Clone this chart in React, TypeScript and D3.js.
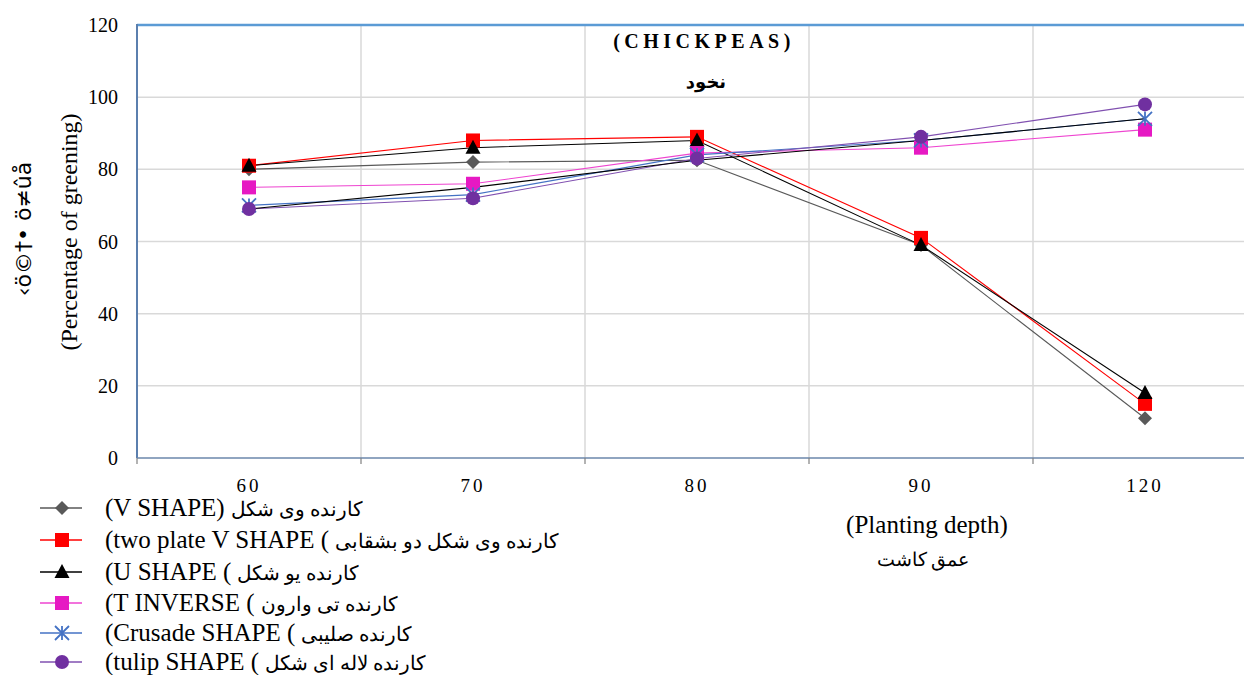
import { useEffect, useRef } from 'react';
import * as d3 from 'd3';

const depths = ['60', '70', '80', '90', '120'];
const vShape = [80, 82, 82.5, 59, 11];
const twoPlateV = [81, 88, 89, 61, 15];
const uShape = [81, 86, 88, 59, 18];
const tInverse = [75, 76, 84.5, 86, 91];
const crusade = [70, 73, 84, 88, 94];
const tulip = [69, 72, 83, 89, 98];
const unlabeled = [69, 75, 82.5, 88, 94];
const yTicks = [0, 20, 40, 60, 80, 100, 120];

const latinNames = ['(V SHAPE)', '(two plate V SHAPE (', '(U SHAPE (', '(T INVERSE (', '(Crusade SHAPE (', '(tulip SHAPE ('];
const persianNames = ['کارنده وی شکل', 'کارنده وی شکل دو بشقابی', 'کارنده یو شکل', 'کارنده تی وارون', 'کارنده صلیبی', 'کارنده لاله ای شکل'];

interface Series {
  values: number[];
  color: string;
  lineColor: string;
  marker: string;
}

const series: Series[] = [
  { values: vShape, color: '#595959', lineColor: '#595959', marker: 'diamond' },
  { values: twoPlateV, color: '#ff0000', lineColor: '#ff0000', marker: 'square' },
  { values: uShape, color: '#000000', lineColor: '#000000', marker: 'triangle' },
  { values: tInverse, color: '#e619c3', lineColor: '#ee44d0', marker: 'square' },
  { values: crusade, color: '#4472c4', lineColor: '#4472c4', marker: 'asterisk' },
  { values: tulip, color: '#7030a0', lineColor: '#8050b0', marker: 'circle' },
];

function drawMarker(g: d3.Selection<SVGGElement, unknown, null, undefined>, kind: string, x: number, y: number, color: string) {
  if (kind === 'square') {
    g.append('rect').attr('x', x - 7).attr('y', y - 7).attr('width', 14).attr('height', 14).attr('fill', color);
  } else if (kind === 'diamond') {
    g.append('path').attr('d', `M${x},${y - 7}L${x + 7},${y}L${x},${y + 7}L${x - 7},${y}Z`).attr('fill', color);
  } else if (kind === 'triangle') {
    g.append('path').attr('d', `M${x},${y - 8}L${x + 7.5},${y + 6}L${x - 7.5},${y + 6}Z`).attr('fill', color);
  } else if (kind === 'circle') {
    g.append('circle').attr('cx', x).attr('cy', y).attr('r', 7).attr('fill', color);
  } else if (kind === 'asterisk') {
    const r = 7;
    const p = `M${x - r},${y - r}L${x + r},${y + r}M${x - r},${y + r}L${x + r},${y - r}M${x},${y - r}L${x},${y + r}`;
    g.append('path').attr('d', p).attr('stroke', color).attr('stroke-width', 1.8).attr('fill', 'none');
  }
}

export default function App() {
  const svgRef = useRef<SVGSVGElement>(null);

  useEffect(() => {
    if (!svgRef.current) return;
    const svg = d3.select(svgRef.current);
    svg.selectAll('*').remove();

    const left = 137;
    const top = 25;
    const bottom = 458;
    const band = 224;

    const x = d3.scaleBand().domain(depths).range([left, left + band * depths.length]).padding(0);
    const y = d3.scaleLinear().domain([0, 120]).range([bottom, top]);
    const cx = (d: string) => (x(d) || 0) + x.bandwidth() / 2;

    const g = svg.append('g');

    // Gridlines
    g.selectAll('line.hgrid')
      .data(yTicks.filter(t => t > 0 && t < 120))
      .enter()
      .append('line')
      .attr('x1', left)
      .attr('x2', 1260)
      .attr('y1', d => y(d))
      .attr('y2', d => y(d))
      .attr('stroke', '#d9d9d9')
      .attr('stroke-width', 1.5);

    g.selectAll('line.vgrid')
      .data(depths.slice(1))
      .enter()
      .append('line')
      .attr('x1', d => x(d) || 0)
      .attr('x2', d => x(d) || 0)
      .attr('y1', top)
      .attr('y2', bottom)
      .attr('stroke', '#d9d9d9')
      .attr('stroke-width', 1.5);

    // Frame
    g.append('line').attr('x1', left).attr('x2', 1260).attr('y1', top).attr('y2', top)
      .attr('stroke', '#5b9bd5').attr('stroke-width', 2.5);
    g.append('line').attr('x1', left).attr('x2', left).attr('y1', top - 1).attr('y2', bottom)
      .attr('stroke', '#5b7fae').attr('stroke-width', 2);
    g.append('line').attr('x1', left).attr('x2', 1260).attr('y1', bottom).attr('y2', bottom)
      .attr('stroke', '#6b87ab').attr('stroke-width', 1.5);

    // X ticks
    g.selectAll('line.xtick')
      .data(depths)
      .enter()
      .append('line')
      .attr('x1', d => x(d) || 0)
      .attr('x2', d => x(d) || 0)
      .attr('y1', bottom)
      .attr('y2', bottom + 6)
      .attr('stroke', '#808080')
      .attr('stroke-width', 1.2);

    // Y tick labels
    g.selectAll('text.ytick')
      .data(yTicks)
      .enter()
      .append('text')
      .attr('x', 118)
      .attr('y', d => y(d) + 7)
      .attr('text-anchor', 'end')
      .attr('font-family', 'Liberation Serif')
      .attr('font-size', 20)
      .text(d => d);

    // X tick labels
    g.selectAll('text.xtick')
      .data(depths)
      .enter()
      .append('text')
      .attr('x', d => cx(d))
      .attr('y', 492)
      .attr('text-anchor', 'middle')
      .attr('font-family', 'Liberation Serif')
      .attr('font-size', 19)
      .attr('letter-spacing', 3)
      .text(d => d);

    // Lines
    const line = d3.line<number>().x((_, i) => cx(depths[i])).y(d => y(d));
    series.forEach(s => {
      g.append('path').attr('d', line(s.values)).attr('fill', 'none')
        .attr('stroke', s.lineColor).attr('stroke-width', 1.1);
    });
    g.append('path').attr('d', line(unlabeled)).attr('fill', 'none')
      .attr('stroke', '#000').attr('stroke-width', 1.1);

    // Markers
    series.forEach(s => {
      s.values.forEach((v, i) => drawMarker(g, s.marker, cx(depths[i]), y(v), s.color));
    });

    // Title
    g.append('text').attr('x', 704).attr('y', 48).attr('text-anchor', 'middle')
      .attr('font-family', 'Liberation Serif').attr('font-weight', 'bold').attr('font-size', 20)
      .attr('letter-spacing', 4.5).text('(CHICKPEAS)');
    g.append('text').attr('x', 706).attr('y', 88).attr('text-anchor', 'middle')
      .attr('font-family', 'DejaVu Sans').attr('font-weight', 'bold').attr('font-size', 18)
      .attr('letter-spacing', 2).text('نخود');

    // Axis titles
    g.append('text').attr('transform', 'translate(77,232) rotate(-90)').attr('text-anchor', 'middle')
      .attr('font-family', 'Liberation Serif').attr('font-size', 24).text('(Percentage of greening)');
    g.append('text').attr('transform', 'translate(31,229) rotate(-90)').attr('text-anchor', 'middle')
      .attr('font-family', 'DejaVu Sans').attr('font-size', 22).text('‹ö©†• ö≠ûå');

    g.append('text').attr('x', 927).attr('y', 533).attr('text-anchor', 'middle')
      .attr('font-family', 'Liberation Serif').attr('font-size', 25).text('(Planting depth)');
    g.append('text').attr('x', 923).attr('y', 566).attr('text-anchor', 'middle')
      .attr('font-family', 'Liberation Serif').attr('font-size', 19).text('عمق کاشت');

    // Legend
    const rowY = [508, 540, 572, 603, 633, 662];
    series.forEach((s, i) => {
      const ly = rowY[i];
      const lg = g.append('g');
      lg.append('line').attr('x1', 40).attr('x2', 82).attr('y1', ly).attr('y2', ly)
        .attr('stroke', s.lineColor).attr('stroke-width', 1.3);
      drawMarker(lg, s.marker, 62, ly, s.color);
      const lt = lg.append('text').attr('x', 105).attr('y', ly + 8)
        .attr('font-family', 'Liberation Serif').attr('font-size', 25)
        .attr('direction', 'ltr').attr('unicode-bidi', 'bidi-override')
        .style('direction', 'ltr').style('unicode-bidi', 'bidi-override')
        .text(latinNames[i]);
      const w = (lt.node() as SVGTextElement).getComputedTextLength();
      lg.append('text').attr('x', 105 + w + 6).attr('y', ly + 8)
        .attr('font-family', 'Liberation Serif').attr('font-size', 20)
        .text(persianNames[i]);
    });
  }, []);

  return (
    <svg
      ref={svgRef}
      width={1244}
      height={675}
      style={{ position: 'absolute', left: 0, top: 0, background: '#fff' }}
    ></svg>
  );
}
